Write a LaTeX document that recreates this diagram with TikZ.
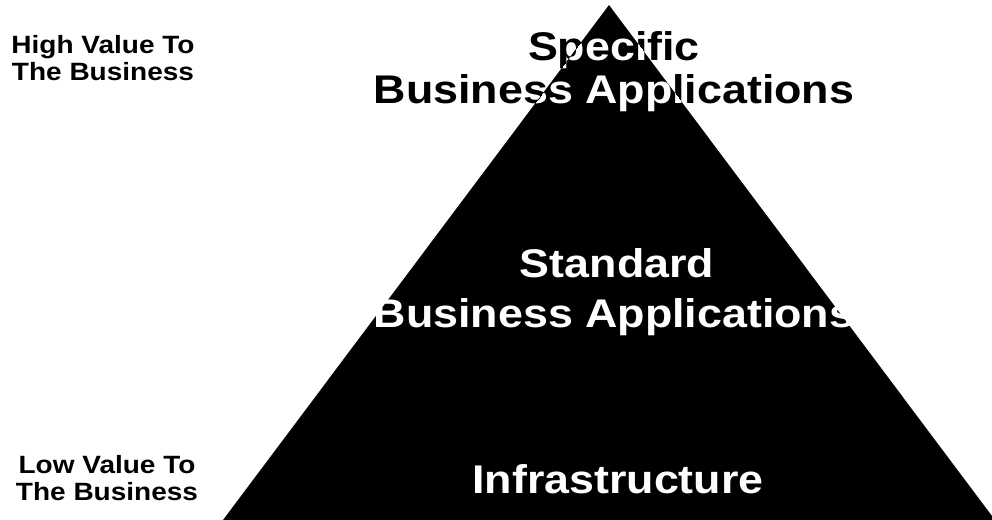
\documentclass[tikz,border=0pt]{standalone}
\usepackage{fontspec}
\setmainfont{Liberation Sans}[FakeStretch=1.12]

\tikzset{
  big/.style={font=\fontsize{20}{24}\selectfont\bfseries, inner sep=0pt, anchor=base},
  side/.style={font=\fontsize{12.5}{13.5}\selectfont\bfseries, inner sep=0pt, anchor=base, align=center},
}
\newcommand\toplabel[2]{%
  \node[big,text=#2] (spec#1) at (614,60) {Specific};
  \node[big,text=#2] (busa#1) at (614,103) {Business Applications};
}

\begin{document}
\begin{tikzpicture}[x=0.5pt,y=-0.5pt]
\useasboundingbox (0,0) rectangle (992,520);
\coordinate (apex) at (609,5);
\coordinate (bl) at (223,520);
\coordinate (br) at (995,520);
\fill (apex) -- (bl) -- (br) -- cycle;

% top label, black outside and white inside
\toplabel{b}{black}
\begin{scope}
\clip (apex) -- (bl) -- (br) -- cycle;
\toplabel{w}{white}
\end{scope}

\node[big,text=white] (std) at (617,277) {Standard};
\node[big,text=white] (busb) at (614,327) {Business Applications};
\node[big,text=white] (infra) at (618,493) {Infrastructure};

% base of a two-line node is its last line
\node[side] (high) at (103,80) {High Value To\\The Business};
\node[side] (low) at (107,500) {Low Value To\\The Business};
\end{tikzpicture}
\end{document}
